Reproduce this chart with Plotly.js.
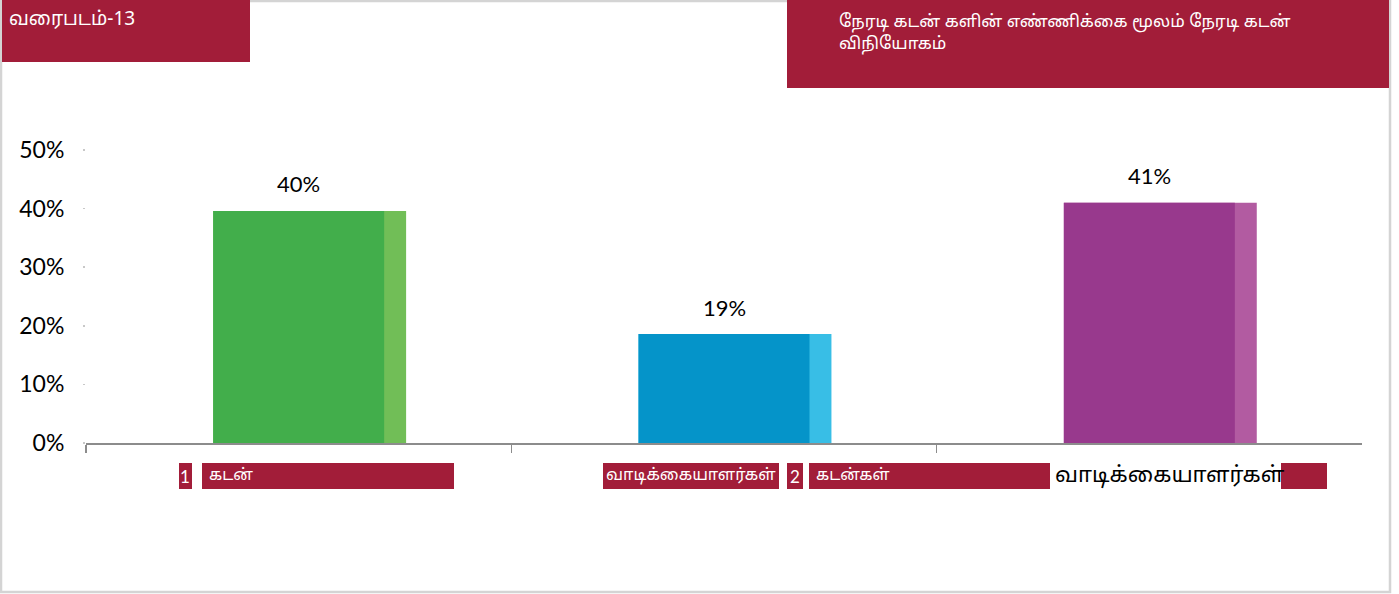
<!DOCTYPE html>
<html>
<head>
<meta charset="utf-8">
<script src="https://cdn.plot.ly/plotly-3.0.1.min.js"></script>
<style>
  html, body { margin: 0; padding: 0; background: #ffffff; }
  #chart { width: 1399px; height: 594px; }
</style>
</head>
<body>
<div id="chart"></div>
<script>
// ---------- data ----------
const categories = ["1 கடன் வாடிக்கையாளர்கள்", "2 கடன்கள் வாடிக்கையாளர்கள்", "3+ கடன்கள் வாடிக்கையாளர்கள்"];
const shares = [0.396, 0.186, 0.410];
const mainColors = ["#42AE4B", "#0594C9", "#98398D"];
const sideColors = ["#71BE57", "#38BEE6", "#B25BA1"];
const yTickVals = [0, 0.1, 0.2, 0.3, 0.4, 0.5];
const yTickText = ["0%", "10%", "20%", "30%", "40%", "50%"];
const chartTitle = "வரைபடம்-13";
const chartSubtitle = ["நேரடி கடன் களின் எண்ணிக்கை மூலம் நேரடி கடன்", "விநியோகம்"];
const xLabelPieces = ["1", "கடன்", "வாடிக்கையாளர்கள்", "2", "கடன்கள்", "வாடிக்கையாளர்கள்"];

// ---------- layout helpers ----------
const W = 1399, H = 594;
const px = x => x / W;
const py = y => 1 - y / H;
const CRIMSON = "#A21D39";
const tamilFont = "'Noto Sans Tamil', Latha, 'Noto Sans', 'DejaVu Sans', sans-serif";
const numFont = "Lato, 'Open Sans', 'Liberation Sans', sans-serif";

const sideTrace = {
  type: "bar", x: categories, y: shares,
  width: 0.4536, offset: -0.201,
  marker: { color: sideColors, line: { width: 0 } },
  hoverinfo: "skip", showlegend: false
};
const mainTrace = {
  type: "bar", x: categories, y: shares,
  width: 0.402, offset: -0.201,
  marker: { color: mainColors, line: { width: 0 } },
  hoverinfo: "skip", showlegend: false
};

const shapes = [
  // outer border
  { type: "rect", xref: "paper", yref: "paper", x0: px(1), x1: px(1390), y0: py(592), y1: py(1),
    line: { color: "#D4D4D4", width: 2.5 }, fillcolor: "rgba(0,0,0,0)", layer: "below" },
  // title boxes
  { type: "rect", xref: "paper", yref: "paper", x0: px(2), x1: px(250), y0: py(62), y1: py(0),
    line: { width: 0 }, fillcolor: CRIMSON, layer: "above" },
  { type: "rect", xref: "paper", yref: "paper", x0: px(787), x1: px(1389), y0: py(88), y1: py(0),
    line: { width: 0 }, fillcolor: CRIMSON, layer: "above" }
];
// x-label boxes [x0, x1]
const labelBoxes = [[179, 192], [202, 454], [603, 779], [787, 803], [809, 1050], [1281, 1327]];
labelBoxes.forEach(b => shapes.push({
  type: "rect", xref: "paper", yref: "paper", x0: px(b[0]), x1: px(b[1]), y0: py(489), y1: py(463),
  line: { width: 0 }, fillcolor: CRIMSON, layer: "above"
}));

const annotations = [
  { xref: "paper", yref: "paper", x: px(7), y: py(20), xanchor: "left", yanchor: "middle",
    text: chartTitle, showarrow: false, font: { family: tamilFont, size: 19, color: "#ffffff" } },
  { xref: "paper", yref: "paper", x: px(837), y: py(10), xanchor: "left", yanchor: "top", align: "left",
    text: chartSubtitle.join("<br>"), showarrow: false,
    font: { family: tamilFont, size: 17, color: "#ffffff" } }
];
// value labels above bars
categories.forEach((c, i) => annotations.push({
  x: c, y: shares[i], xref: "x", yref: "y", yshift: 27, showarrow: false,
  text: Math.round(shares[i] * 100) + "%", yanchor: "middle",
  font: { family: numFont, size: 22, color: "#000000" }
}));
// x-label texts: [x position, anchor, size, color]
const pieceStyle = [
  [185.5, "center", 17, "#ffffff"],
  [207, "left", 16, "#ffffff"],
  [604, "left", 16.3, "#ffffff"],
  [795, "center", 17, "#ffffff"],
  [814, "left", 16, "#ffffff"],
  [1053, "left", 22, "#000000"]
];
xLabelPieces.forEach((t, i) => annotations.push({
  xref: "paper", yref: "paper", x: px(pieceStyle[i][0]), y: py(476),
  xanchor: pieceStyle[i][1], yanchor: "middle", text: t, showarrow: false,
  font: { family: i === 0 || i === 3 ? numFont : tamilFont, size: pieceStyle[i][2], color: pieceStyle[i][3] }
}));

const layout = {
  width: W, height: H,
  margin: { l: 0, r: 0, t: 0, b: 0 },
  paper_bgcolor: "#ffffff", plot_bgcolor: "rgba(0,0,0,0)",
  barmode: "overlay",
  showlegend: false,
  xaxis: {
    domain: [px(86), px(1362)], range: [-0.5, 2.5], type: "category",
    showline: true, linecolor: "#8C8C8C", linewidth: 2,
    ticks: "outside", tickson: "boundaries", ticklen: 8, tickcolor: "#8C8C8C", tickwidth: 1.5,
    showticklabels: false, showgrid: false, zeroline: false, fixedrange: true
  },
  yaxis: {
    domain: [py(443), py(150)], range: [0, 0.5],
    tickvals: yTickVals, ticktext: yTickText,
    tickfont: { family: numFont, size: 23, color: "#000000" },
    ticks: "outside", ticklen: 2, tickwidth: 1.5, tickcolor: "#C8C8C8",
    ticklabelstandoff: 14,
    showline: false, showgrid: false, zeroline: false, fixedrange: true
  },
  shapes: shapes,
  annotations: annotations
};

Plotly.newPlot("chart", [sideTrace, mainTrace], layout, { staticPlot: true, displayModeBar: false });
</script>
</body>
</html>
